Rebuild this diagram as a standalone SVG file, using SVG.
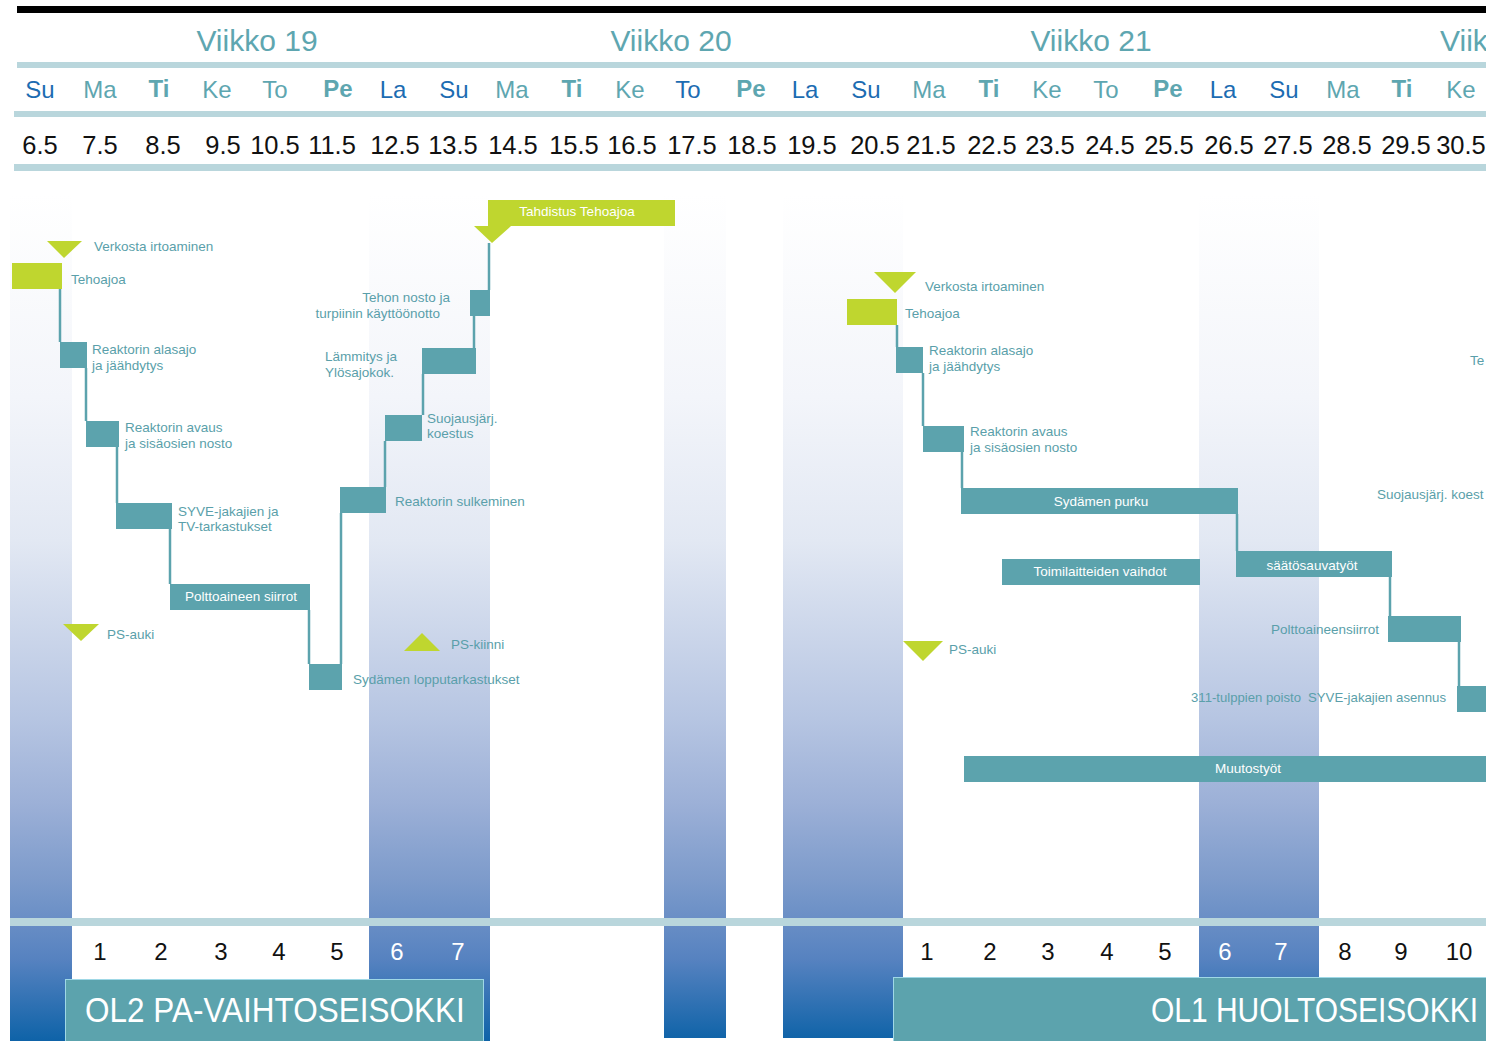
<svg xmlns="http://www.w3.org/2000/svg" width="1486" height="1041" viewBox="0 0 1486 1041">
<defs>
<linearGradient id="colg" gradientUnits="userSpaceOnUse" x1="0" y1="195" x2="0" y2="1040">
<stop offset="0" stop-color="#ffffff"/>
<stop offset="0.24" stop-color="#f3f5fa"/>
<stop offset="0.41" stop-color="#e2e8f3"/>
<stop offset="0.62" stop-color="#b6c5e2"/>
<stop offset="0.72" stop-color="#9cb0d7"/>
<stop offset="0.81" stop-color="#7d9bcb"/>
<stop offset="0.905" stop-color="#5682c0"/>
<stop offset="1" stop-color="#0f63a8"/>
</linearGradient>
<style>
text{font-family:"Liberation Sans",Arial,sans-serif}
.wk{font-size:30px;fill:#5ea6b0;text-anchor:middle}
.d{font-size:24px;fill:#5ea6b0;text-anchor:middle}
.db{font-weight:bold}
.dh{fill:#1c6cb2}
.dt{font-size:25.5px;fill:#111;text-anchor:middle}
.band{fill:#b9d6dc}
.col{fill:url(#colg)}
.bar{fill:#5ca3ad}
.grn{fill:#bfd62f}
.lbl{font-size:13.5px;fill:#5a9faa}
.wl{font-size:13.5px;fill:#fff;text-anchor:middle}
.n{font-size:24px;fill:#111;text-anchor:middle}
.nw{fill:#fff}
.big{font-size:30px;fill:#fff}
.obar{fill:#5ca3ad;stroke:#9fd8e6;stroke-width:1}
#connectors line{stroke:#5ca3ad;stroke-width:2.5}
</style>
</defs>
<rect width="1486" height="1041" fill="#fff"/>

<g id="columns">
<rect class="col" x="10" y="195" width="62" height="846"/>
<rect class="col" x="369" y="195" width="121" height="846"/>
<rect class="col" x="664" y="195" width="62" height="843"/>
<rect class="col" x="783" y="195" width="120" height="843"/>
<rect class="col" x="1199" y="195" width="120" height="782"/>
</g>

<g id="header">
<rect x="17" y="6" width="1469" height="7" fill="#000"/>
<text class="wk" x="257" y="51">Viikko 19</text>
<text class="wk" x="671" y="51">Viikko 20</text>
<text class="wk" x="1091" y="51">Viikko 21</text>
<text class="wk" x="1440" y="51" style="text-anchor:start">Viik</text>
<rect class="band" x="17" y="62" width="1469" height="6"/>
<text class="d dh" x="40" y="98">Su</text>
<text class="d" x="100" y="98">Ma</text>
<text class="d db" x="159" y="97">Ti</text>
<text class="d" x="217" y="98">Ke</text>
<text class="d" x="275" y="98">To</text>
<text class="d db" x="338" y="97">Pe</text>
<text class="d dh" x="393" y="98">La</text>
<text class="d dh" x="454" y="98">Su</text>
<text class="d" x="512" y="98">Ma</text>
<text class="d db" x="572" y="97">Ti</text>
<text class="d" x="630" y="98">Ke</text>
<text class="d dh" x="688" y="98">To</text>
<text class="d db" x="751" y="97">Pe</text>
<text class="d dh" x="805" y="98">La</text>
<text class="d dh" x="866" y="98">Su</text>
<text class="d" x="929" y="98">Ma</text>
<text class="d db" x="989" y="97">Ti</text>
<text class="d" x="1047" y="98">Ke</text>
<text class="d" x="1106" y="98">To</text>
<text class="d db" x="1168" y="97">Pe</text>
<text class="d dh" x="1223" y="98">La</text>
<text class="d dh" x="1284" y="98">Su</text>
<text class="d" x="1343" y="98">Ma</text>
<text class="d db" x="1402" y="97">Ti</text>
<text class="d" x="1461" y="98">Ke</text>
<rect class="band" x="14" y="111" width="1472" height="6"/>
<text class="dt" x="40" y="154">6.5</text>
<text class="dt" x="100" y="154">7.5</text>
<text class="dt" x="163" y="154">8.5</text>
<text class="dt" x="223" y="154">9.5</text>
<text class="dt" x="275" y="154">10.5</text>
<text class="dt" x="332" y="154">11.5</text>
<text class="dt" x="395" y="154">12.5</text>
<text class="dt" x="453" y="154">13.5</text>
<text class="dt" x="513" y="154">14.5</text>
<text class="dt" x="574" y="154">15.5</text>
<text class="dt" x="632" y="154">16.5</text>
<text class="dt" x="692" y="154">17.5</text>
<text class="dt" x="752" y="154">18.5</text>
<text class="dt" x="812" y="154">19.5</text>
<text class="dt" x="875" y="154">20.5</text>
<text class="dt" x="931" y="154">21.5</text>
<text class="dt" x="992" y="154">22.5</text>
<text class="dt" x="1050" y="154">23.5</text>
<text class="dt" x="1110" y="154">24.5</text>
<text class="dt" x="1169" y="154">25.5</text>
<text class="dt" x="1229" y="154">26.5</text>
<text class="dt" x="1288" y="154">27.5</text>
<text class="dt" x="1347" y="154">28.5</text>
<text class="dt" x="1406" y="154">29.5</text>
<text class="dt" x="1461" y="154">30.5</text>
<rect class="band" x="14" y="164" width="1472" height="7"/>
</g>

<g id="connectors">
<line x1="60" y1="289" x2="60" y2="342"/>
<line x1="86" y1="368" x2="86" y2="421"/>
<line x1="117" y1="447" x2="117" y2="503"/>
<line x1="170" y1="529" x2="170" y2="584"/>
<line x1="309" y1="610" x2="309" y2="664"/>
<line x1="341" y1="664" x2="341" y2="513"/>
<line x1="385" y1="487" x2="385" y2="441"/>
<line x1="423" y1="415" x2="423" y2="374"/>
<line x1="474" y1="348" x2="474" y2="316"/>
<line x1="489" y1="290" x2="489" y2="243"/>
<line x1="897" y1="325" x2="897" y2="347"/>
<line x1="923" y1="373" x2="923" y2="426"/>
<line x1="962" y1="452" x2="962" y2="488"/>
<line x1="1237" y1="514" x2="1237" y2="551"/>
<line x1="1390" y1="577" x2="1390" y2="616"/>
<line x1="1459" y1="642" x2="1459" y2="686"/>
</g>

<g id="ol2-verkosta"><polygon class="grn" points="47,241 82,241 64,258"/><text class="lbl" x="94" y="251">Verkosta irtoaminen</text></g>
<g id="ol2-tehoajoa"><rect class="grn" x="12" y="263" width="50" height="26"/><text class="lbl" x="71" y="284">Tehoajoa</text></g>
<g id="ol2-alasajo"><rect class="bar" x="60" y="342" width="27" height="26"/><text class="lbl" x="92" y="354">Reaktorin alasajo</text><text class="lbl" x="92" y="370">ja jäähdytys</text></g>
<g id="ol2-avaus"><rect class="bar" x="86" y="421" width="33" height="26"/><text class="lbl" x="125" y="432">Reaktorin avaus</text><text class="lbl" x="125" y="448">ja sisäosien nosto</text></g>
<g id="ol2-syve"><rect class="bar" x="116" y="503" width="56" height="26"/><text class="lbl" x="178" y="516">SYVE-jakajien ja</text><text class="lbl" x="178" y="531">TV-tarkastukset</text></g>
<g id="ol2-polttoaine"><rect class="bar" x="170" y="584" width="140" height="26"/><text class="wl" x="241" y="601">Polttoaineen siirrot</text></g>
<g id="ol2-lopputarkastukset"><rect class="bar" x="309" y="664" width="33" height="26"/><text class="lbl" x="353" y="684">Sydämen lopputarkastukset</text></g>
<g id="ol2-sulkeminen"><rect class="bar" x="340" y="487" width="46" height="26"/><text class="lbl" x="395" y="506">Reaktorin sulkeminen</text></g>
<g id="ol2-suojaus"><rect class="bar" x="385" y="415" width="37" height="26"/><text class="lbl" x="427" y="423">Suojausjärj.</text><text class="lbl" x="427" y="438">koestus</text></g>
<g id="ol2-lammitys"><rect class="bar" x="422" y="348" width="54" height="26"/><text class="lbl" x="325" y="361">Lämmitys ja</text><text class="lbl" x="325" y="377">Ylösajokok.</text></g>
<g id="ol2-tehon-nosto"><rect class="bar" x="470" y="290" width="20" height="26"/><text class="lbl" x="450" y="302" text-anchor="end">Tehon nosto ja</text><text class="lbl" x="440" y="318" text-anchor="end">turpiinin käyttöönotto</text></g>
<g id="ol2-tahdistus"><rect class="grn" x="488" y="200" width="187" height="26"/><polygon class="grn" points="474,226 511,226 492,243"/><text class="wl" x="577" y="216">Tahdistus Tehoajoa</text></g>
<g id="ol2-ps-auki"><polygon class="grn" points="63,624 99,624 81,641"/><text class="lbl" x="107" y="639">PS-auki</text></g>
<g id="ol2-ps-kiinni"><polygon class="grn" points="404,651 440,651 422,633"/><text class="lbl" x="451" y="649">PS-kiinni</text></g>

<g id="ol1-verkosta"><polygon class="grn" points="874,272 916,272 895,293"/><text class="lbl" x="925" y="291">Verkosta irtoaminen</text></g>
<g id="ol1-tehoajoa"><rect class="grn" x="847" y="299" width="50" height="26"/><text class="lbl" x="905" y="318">Tehoajoa</text></g>
<g id="ol1-alasajo"><rect class="bar" x="896" y="347" width="27" height="26"/><text class="lbl" x="929" y="355">Reaktorin alasajo</text><text class="lbl" x="929" y="371">ja jäähdytys</text></g>
<g id="ol1-avaus"><rect class="bar" x="923" y="426" width="41" height="26"/><text class="lbl" x="970" y="436">Reaktorin avaus</text><text class="lbl" x="970" y="452">ja sisäosien nosto</text></g>
<g id="ol1-purku"><rect class="bar" x="961" y="488" width="277" height="26"/><text class="wl" x="1101" y="506">Sydämen purku</text></g>
<g id="ol1-saato"><rect class="bar" x="1236" y="551" width="156" height="26"/><text class="wl" x="1312" y="570">säätösauvatyöt</text></g>
<g id="ol1-polttoaine"><rect class="bar" x="1388" y="616" width="73" height="26"/><text class="lbl" x="1379" y="634" text-anchor="end">Polttoaineensiirrot</text></g>
<g id="ol1-syve"><rect class="bar" x="1457" y="686" width="29" height="26"/><text class="lbl" x="1191" y="702" textLength="110" lengthAdjust="spacingAndGlyphs">311-tulppien poisto</text><text class="lbl" x="1308" y="702" textLength="138" lengthAdjust="spacingAndGlyphs">SYVE-jakajien asennus</text></g>
<g id="ol1-toimilaitteet"><rect class="bar" x="1002" y="559" width="198" height="26"/><text class="wl" x="1100" y="576">Toimilaitteiden vaihdot</text></g>
<g id="ol1-muutostyot"><rect class="bar" x="964" y="756" width="522" height="26"/><text class="wl" x="1248" y="773">Muutostyöt</text></g>
<g id="ol1-ps-auki"><polygon class="grn" points="903,641 943,641 923,661"/><text class="lbl" x="949" y="654">PS-auki</text></g>
<g id="ol1-tehon-nosto"><text class="lbl" x="1470" y="365">Te</text></g>
<g id="ol1-suojaus"><text class="lbl" x="1377" y="499">Suojausjärj. koest</text></g>

<g id="footer">
<rect class="band" x="10" y="918" width="1476" height="8"/>
<text class="n" x="100" y="960">1</text>
<text class="n" x="161" y="960">2</text>
<text class="n" x="221" y="960">3</text>
<text class="n" x="279" y="960">4</text>
<text class="n" x="337" y="960">5</text>
<text class="n nw" x="397" y="960">6</text>
<text class="n nw" x="458" y="960">7</text>
<text class="n" x="927" y="960">1</text>
<text class="n" x="990" y="960">2</text>
<text class="n" x="1048" y="960">3</text>
<text class="n" x="1107" y="960">4</text>
<text class="n" x="1165" y="960">5</text>
<text class="n nw" x="1225" y="960">6</text>
<text class="n nw" x="1281" y="960">7</text>
<text class="n" x="1345" y="960">8</text>
<text class="n" x="1401" y="960">9</text>
<text class="n" x="1459" y="960">10</text>
</g>
<g id="ol2-title"><rect class="obar" x="65.5" y="979.5" width="418" height="62"/><text class="big" transform="translate(85,1022) scale(1.05,1.17)" x="0" y="0">OL2 PA-VAIHTOSEISOKKI</text></g>
<g id="ol1-title"><rect class="obar" x="893.5" y="977.5" width="593" height="64"/><text class="big" transform="translate(1478,1022) scale(1,1.17)" x="0" y="0" text-anchor="end">OL1 HUOLTOSEISOKKI</text></g>
</svg>
